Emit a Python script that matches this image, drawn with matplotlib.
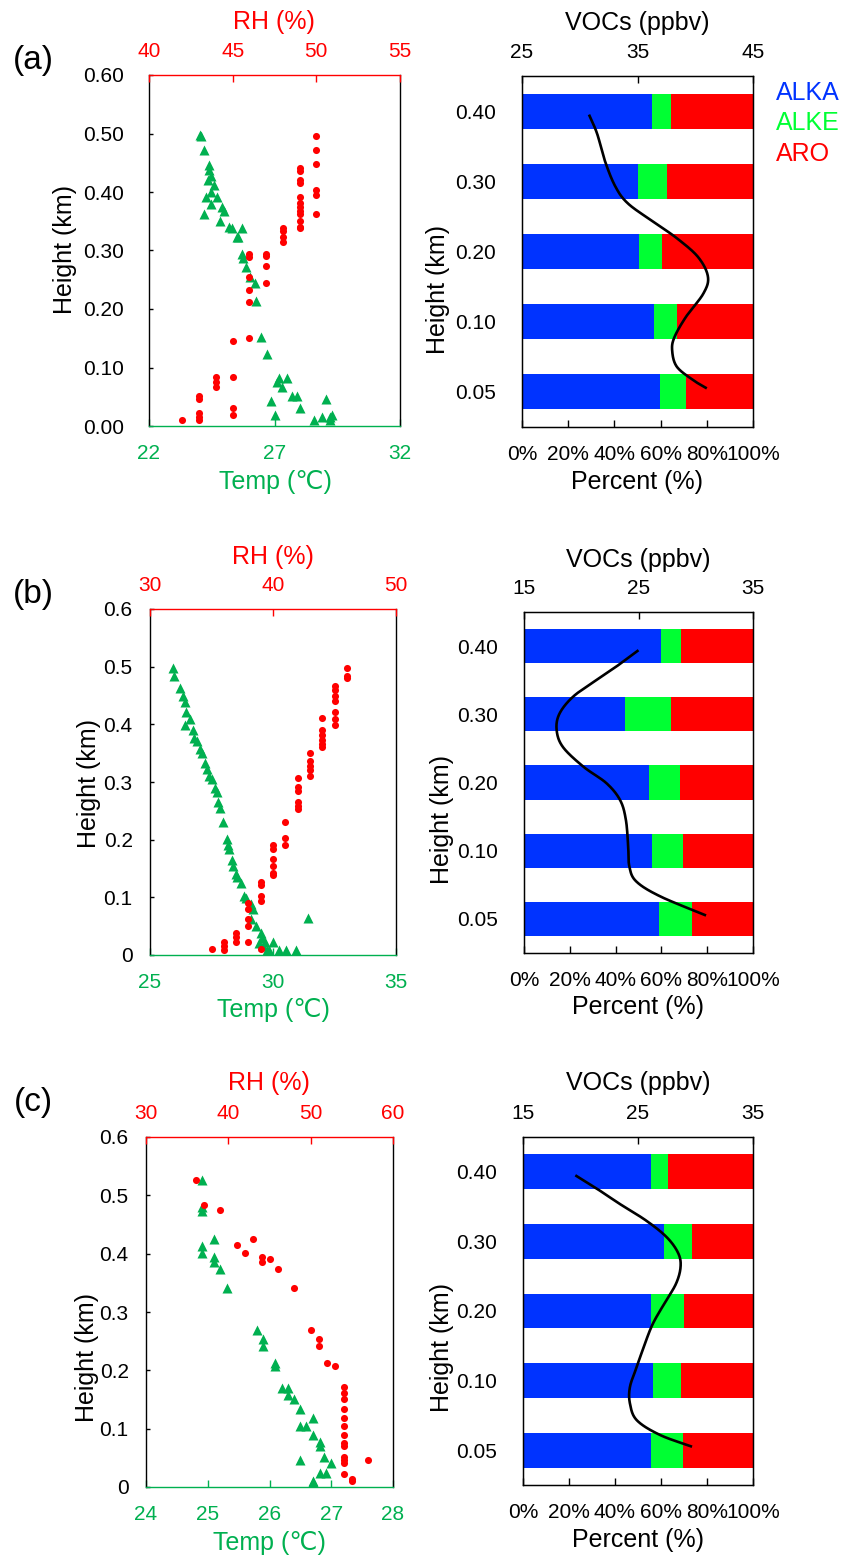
import numpy as np
import matplotlib
matplotlib.use('Agg')
import matplotlib.pyplot as plt

plt.rcParams['font.family'] = ['Liberation Sans', 'DejaVu Sans']

# ---------------- data ----------------
# Panel (a) meteorological profile
a_temp_T = [24.03, 24.07, 24.21, 24.41, 24.41, 24.35, 24.47, 24.59, 24.29, 24.47,
            24.69, 24.47, 24.21, 24.89, 24.98, 24.81, 25.19, 25.29, 25.71, 25.54,
            25.51, 25.71, 25.75, 25.88, 26.04, 26.21, 26.28, 26.48, 26.71, 27.19,
            27.51, 27.11, 27.28, 27.68, 27.90, 26.88, 28.01, 27.00, 29.07, 28.58,
            28.90, 29.23, 29.30, 29.20]
a_temp_h = [0.498, 0.495, 0.471, 0.447, 0.438, 0.421, 0.427, 0.412, 0.391, 0.400,
            0.391, 0.380, 0.363, 0.374, 0.367, 0.351, 0.341, 0.339, 0.338, 0.323,
            0.323, 0.294, 0.287, 0.272, 0.254, 0.244, 0.213, 0.152, 0.123, 0.082,
            0.082, 0.076, 0.066, 0.051, 0.051, 0.043, 0.030, 0.018, 0.046, 0.010,
            0.015, 0.015, 0.018, 0.010]
a_rh_RH = [50] * 6 + [49] * 12 + [48] * 4 + [47] * 4 + [46] * 6 + [45] * 4 + [44] * 3 + [43] * 5 + [42]
a_rh_h = [0.496, 0.472, 0.448, 0.403, 0.395, 0.363,
          0.441, 0.436, 0.421, 0.416, 0.392, 0.381, 0.374, 0.368, 0.363, 0.350, 0.341, 0.338,
          0.339, 0.333, 0.323, 0.315,
          0.294, 0.290, 0.274, 0.244,
          0.294, 0.289, 0.254, 0.232, 0.212, 0.151,
          0.146, 0.083, 0.030, 0.019,
          0.084, 0.076, 0.066,
          0.051, 0.046, 0.023, 0.016, 0.010,
          0.011]

# Panel (b)
b_temp_T = [25.92, 25.98, 26.22, 26.33, 26.42, 26.46, 26.63, 26.42, 26.73, 26.79,
            26.92, 27.03, 27.10, 27.24, 27.30, 27.41, 27.51, 27.64, 27.74, 27.78,
            27.85, 27.95, 28.14, 28.18, 28.22, 28.32, 28.39, 28.50, 28.55, 28.69,
            28.82, 28.90, 29.09, 29.20, 29.09, 29.31, 29.50, 29.54, 29.44, 29.67,
            29.61, 29.74, 29.85, 30.01, 30.26, 30.53, 30.92, 31.44]
b_temp_h = [0.498, 0.483, 0.463, 0.449, 0.438, 0.421, 0.409, 0.399, 0.390, 0.376,
            0.371, 0.357, 0.350, 0.333, 0.323, 0.311, 0.305, 0.290, 0.282, 0.265,
            0.255, 0.230, 0.201, 0.191, 0.183, 0.165, 0.154, 0.141, 0.136, 0.124,
            0.103, 0.099, 0.089, 0.079, 0.062, 0.051, 0.038, 0.029, 0.021, 0.022,
            0.016, 0.009, 0.009, 0.022, 0.009, 0.009, 0.009, 0.065]
b_rh_RH = [46] * 3 + [45] * 7 + [44] * 6 + [43] * 5 + [42] * 6 + [41] * 3 + [40] * 6 + [39] * 5 + [38] * 5 + [37] * 3 + [36] * 3 + [35]
b_rh_h = [0.498, 0.484, 0.480,
          0.467, 0.459, 0.450, 0.440, 0.421, 0.409, 0.398,
          0.411, 0.391, 0.382, 0.373, 0.366, 0.360,
          0.351, 0.336, 0.327, 0.320, 0.311,
          0.307, 0.292, 0.284, 0.266, 0.258, 0.253,
          0.230, 0.203, 0.191,
          0.191, 0.183, 0.166, 0.154, 0.143, 0.138,
          0.126, 0.122, 0.103, 0.094, 0.010,
          0.091, 0.079, 0.062, 0.051, 0.022,
          0.039, 0.032, 0.022,
          0.022, 0.016, 0.009,
          0.010]

# Panel (c)
c_temp_T = [24.90, 24.90, 24.90, 24.90, 24.90, 25.10, 25.10, 25.10, 25.20, 25.31,
            25.79, 25.90, 25.90, 26.09, 26.09, 26.20, 26.30, 26.30, 26.40, 26.50,
            26.70, 26.50, 26.59, 26.70, 26.81, 26.81, 26.89, 27.00, 26.50, 26.81,
            26.91, 26.70, 26.70]
c_temp_h = [0.526, 0.480, 0.473, 0.413, 0.402, 0.426, 0.395, 0.386, 0.373, 0.341,
            0.270, 0.253, 0.242, 0.213, 0.207, 0.169, 0.169, 0.158, 0.151, 0.133,
            0.118, 0.105, 0.105, 0.090, 0.078, 0.071, 0.052, 0.042, 0.046, 0.024,
            0.024, 0.011, 0.008]
c_rh_RH = [36.1, 37.0, 39.0, 41.0, 42.0, 43.0, 44.1, 44.1, 45.1, 46.0, 48.0, 50.1,
           51.0, 51.0, 52.0, 53.0] + [54.0] * 13 + [55.0, 55.0, 57.0]
c_rh_h = [0.527, 0.483, 0.475, 0.415, 0.402, 0.426, 0.395, 0.386, 0.391, 0.374,
          0.342, 0.270, 0.254, 0.242, 0.213, 0.207,
          0.171, 0.161, 0.151, 0.133, 0.118, 0.105, 0.090, 0.076, 0.070, 0.052,
          0.047, 0.041, 0.023,
          0.014, 0.010, 0.046]

# VOC composition (percent), categories bottom -> top
heights = ['0.05', '0.10', '0.20', '0.30', '0.40']
a_alka = [59.6, 57.3, 50.6, 50.2, 56.1]
a_alke = [11.2, 9.6, 10.1, 12.5, 8.4]
a_aro = [29.2, 33.1, 39.3, 37.3, 35.5]
b_alka = [59.0, 55.8, 54.5, 44.0, 59.7]
b_alke = [14.3, 13.5, 13.7, 20.4, 8.9]
b_aro = [26.7, 30.7, 31.8, 35.6, 31.4]
c_alka = [55.8, 56.5, 55.5, 61.3, 55.5]
c_alke = [13.6, 12.3, 14.5, 12.2, 7.7]
c_aro = [30.6, 31.2, 30.0, 26.5, 36.8]

# total VOC profile (ppbv) traced along height (in category-index units)
a_voc_pos = [3.95, 3.68, 3.28, 2.92, 2.68, 2.42, 2.19, 1.92, 1.64, 1.40, 1.07, 0.78, 0.59, 0.36, 0.17, 0.05]
a_voc_val = [30.8, 31.5, 32.2, 33.1, 34.2, 36.4, 38.4, 40.25, 41.1, 40.7, 39.2, 38.2, 38.0, 38.4, 39.8, 41.0]
b_voc_pos = [3.94, 3.74, 3.50, 3.26, 3.01, 2.77, 2.52, 2.23, 1.99, 1.74, 1.45, 1.06, 0.77, 0.55, 0.33, 0.05]
b_voc_val = [25.0, 23.4, 21.3, 19.3, 18.1, 17.85, 18.4, 20.2, 22.2, 23.4, 23.9, 24.1, 24.2, 24.8, 26.9, 30.9]
c_voc_pos = [3.95, 3.76, 3.54, 3.30, 3.06, 2.83, 2.63, 2.39, 2.11, 1.82, 1.53, 1.20, 0.91, 0.67, 0.43, 0.22, 0.05]
c_voc_val = [19.55, 21.4, 23.4, 25.7, 27.5, 28.5, 28.7, 28.3, 27.3, 26.3, 25.6, 24.9, 24.3, 24.3, 24.9, 26.9, 29.7]

# ---------------- style ----------------
W, H = 843, 1557
GREEN = '#00B050'
RED = '#FF0000'
BLUE_BAR = '#0033FF'
GREEN_BAR = '#00FF33'
TICK_FS = 15
LAB_FS = 18

fig = plt.figure(figsize=(W / 100, H / 100), dpi=100)


def box(x0, y0, x1, y1):
    return [x0 / W, 1 - y1 / H, (x1 - x0) / W, (y1 - y0) / H]


def txt(x, y, s, **kw):
    kw.setdefault('ha', 'center')
    kw.setdefault('va', 'center')
    fig.text(x / W, 1 - y / H, s, **kw)


def catmull(xs, ys, n=30):
    P = np.column_stack([xs, ys]).astype(float)
    P = np.vstack([2 * P[0] - P[1], P, 2 * P[-1] - P[-2]])
    out = []
    t = np.linspace(0, 1, n, endpoint=False)[:, None]
    for i in range(1, len(P) - 2):
        p0, p1, p2, p3 = P[i - 1], P[i], P[i + 1], P[i + 2]
        seg = 0.5 * ((2 * p1) + (-p0 + p2) * t + (2 * p0 - 5 * p1 + 4 * p2 - p3) * t ** 2
                     + (-p0 + 3 * p1 - 3 * p2 + p3) * t ** 3)
        out.append(seg)
    out.append(P[-2][None, :])
    return np.vstack(out)


def scatter_panel(rect, T, Th, RH, RHh, tlim, tticks, rhlim, rhticks, ylabels, ypad):
    ax = fig.add_axes(box(*rect))
    ax.scatter(T, Th, marker='^', s=52, color=GREEN, linewidths=0, zorder=3)
    ax.set_xlim(*tlim)
    ax.set_xticks(tticks)
    ax.set_ylim(0, 0.6)
    ax.set_yticks(np.arange(0, 0.61, 0.1))
    ax.set_yticklabels(ylabels)
    ax.tick_params(axis='x', direction='in', colors=GREEN, labelsize=TICK_FS, length=5, pad=13, width=1)
    ax.tick_params(axis='y', direction='in', colors='black', labelsize=TICK_FS, length=3, pad=ypad, width=1)
    ax.spines['bottom'].set_color(GREEN)
    ax.spines['top'].set_visible(False)
    for s in ax.spines.values():
        s.set_linewidth(1.0)
    ax2 = ax.twiny()
    ax2.scatter(RH, RHh, marker='o', s=26, color=RED, linewidths=0, zorder=4)
    ax2.set_xlim(*rhlim)
    ax2.set_xticks(rhticks)
    ax2.tick_params(axis='x', direction='in', colors=RED, labelsize=TICK_FS, length=5, pad=10, width=1)
    ax2.spines['top'].set_color(RED)
    ax2.spines['top'].set_linewidth(1.0)
    for k in ('bottom', 'left', 'right'):
        ax2.spines[k].set_visible(False)
    return ax


def bar_panel(rect, alka, alke, aro, vpos, vval, vlim, vticks):
    ax = fig.add_axes(box(*rect))
    y = np.arange(len(heights))
    alka = np.array(alka)
    alke = np.array(alke)
    aro = np.array(aro)
    ax.barh(y, alka, height=0.5, color=BLUE_BAR, linewidth=0)
    ax.barh(y, alke, left=alka, height=0.5, color=GREEN_BAR, linewidth=0)
    ax.barh(y, aro, left=alka + alke, height=0.5, color=RED, linewidth=0)
    ax.set_xlim(0, 100)
    ax.set_ylim(-0.5, 4.5)
    ax.set_xticks(np.arange(0, 101, 20))
    ax.set_xticklabels([f'{v}%' for v in range(0, 101, 20)])
    ax.set_yticks(y)
    ax.set_yticklabels(heights)
    ax.tick_params(axis='x', direction='in', labelsize=TICK_FS, length=5, pad=13, width=1)
    ax.tick_params(axis='y', length=0, labelsize=TICK_FS, pad=19)
    for s in ax.spines.values():
        s.set_linewidth(1.0)
    ax2 = ax.twiny()
    c = catmull(vval, vpos)
    ax2.plot(c[:, 0], c[:, 1], color='black', lw=1.9, solid_capstyle='butt')
    ax2.set_xlim(*vlim)
    ax2.set_xticks(vticks)
    ax2.tick_params(axis='x', direction='in', labelsize=TICK_FS, length=5, pad=10, width=1)
    ax2.set_ylim(-0.5, 4.5)
    return ax


# ---------------- panel (a) ----------------
scatter_panel((149, 75, 400, 426), a_temp_T, a_temp_h, a_rh_RH, a_rh_h,
              (22, 32), [22, 27, 32], (40, 55), [40, 45, 50, 55],
              [f'{v:.2f}' for v in np.arange(0, 0.61, 0.1)], 18)
bar_panel((522, 76, 753, 427), a_alka, a_alke, a_aro, a_voc_pos, a_voc_val, (25, 45), [25, 35, 45])
txt(33, 61, '(a)', fontsize=24)
txt(274, 22, 'RH (%)', fontsize=LAB_FS, color=RED)
txt(275, 482, 'Temp (℃)', fontsize=LAB_FS, color=GREEN)
txt(65, 250, 'Height (km)', fontsize=LAB_FS, rotation=90)
txt(637, 23, 'VOCs (ppbv)', fontsize=LAB_FS)
txt(637, 482, 'Percent (%)', fontsize=LAB_FS)
txt(438, 290, 'Height (km)', fontsize=LAB_FS, rotation=90)
txt(776, 93, 'ALKA', fontsize=LAB_FS, color=BLUE_BAR, ha='left')
txt(776, 123, 'ALKE', fontsize=LAB_FS, color=GREEN_BAR, ha='left')
txt(776, 154, 'ARO', fontsize=LAB_FS, color=RED, ha='left')

# ---------------- panel (b) ----------------
scatter_panel((150, 609, 396, 955), b_temp_T, b_temp_h, b_rh_RH, b_rh_h,
              (25, 35), [25, 30, 35], (30, 50), [30, 40, 50],
              ['0', '0.1', '0.2', '0.3', '0.4', '0.5', '0.6'], 12.5)
bar_panel((524, 612, 753, 953), b_alka, b_alke, b_aro, b_voc_pos, b_voc_val, (15, 35), [15, 25, 35])
txt(33, 595, '(b)', fontsize=24)
txt(273, 557, 'RH (%)', fontsize=LAB_FS, color=RED)
txt(273, 1010, 'Temp (℃)', fontsize=LAB_FS, color=GREEN)
txt(89, 783, 'Height (km)', fontsize=LAB_FS, rotation=90)
txt(638, 560, 'VOCs (ppbv)', fontsize=LAB_FS)
txt(638, 1007, 'Percent (%)', fontsize=LAB_FS)
txt(442, 820, 'Height (km)', fontsize=LAB_FS, rotation=90)

# ---------------- panel (c) ----------------
scatter_panel((146, 1137, 393, 1487), c_temp_T, c_temp_h, c_rh_RH, c_rh_h,
              (24, 28), [24, 25, 26, 27, 28], (30, 60), [30, 40, 50, 60],
              ['0', '0.1', '0.2', '0.3', '0.4', '0.5', '0.6'], 12.5)
bar_panel((523, 1137, 753, 1485), c_alka, c_alke, c_aro, c_voc_pos, c_voc_val, (15, 35), [15, 25, 35])
txt(33, 1102, '(c)', fontsize=24)
txt(269, 1083, 'RH (%)', fontsize=LAB_FS, color=RED)
txt(269, 1543, 'Temp (℃)', fontsize=LAB_FS, color=GREEN)
txt(87, 1357, 'Height (km)', fontsize=LAB_FS, rotation=90)
txt(638, 1083, 'VOCs (ppbv)', fontsize=LAB_FS)
txt(638, 1540, 'Percent (%)', fontsize=LAB_FS)
txt(442, 1348, 'Height (km)', fontsize=LAB_FS, rotation=90)

fig.savefig('out.png', dpi=100)
